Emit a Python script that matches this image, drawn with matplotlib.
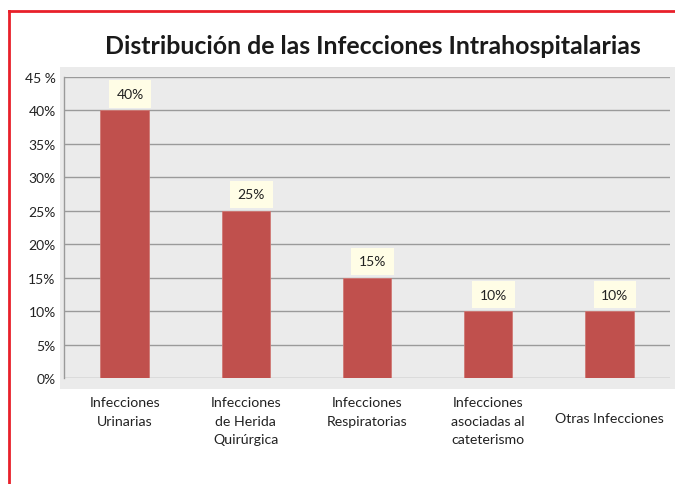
import matplotlib
matplotlib.use("Agg")
import matplotlib.pyplot as plt
import matplotlib.transforms as mtransforms
from matplotlib.patches import Rectangle
from matplotlib.lines import Line2D

plt.rcParams['font.family'] = ['Lato', 'DejaVu Sans']

categorias = ["Infecciones\nUrinarias",
              "Infecciones\nde Herida\nQuirúrgica",
              "Infecciones\nRespiratorias",
              "Infecciones\nasociadas al\ncateterismo",
              "Otras Infecciones"]
valores = [0.40, 0.25, 0.15, 0.10, 0.10]
etiquetas = ["40%", "25%", "15%", "10%", "10%"]
ticks_y = [0, 0.05, 0.10, 0.15, 0.20, 0.25, 0.30, 0.35, 0.40, 0.45]
ticks_y_txt = ["0%", "5%", "10%", "15%", "20%", "25%", "30%", "35%", "40%", "45 %"]
titulo = "Distribución de las Infecciones Intrahospitalarias"

W, H = 675, 485
fig = plt.figure(figsize=(W / 100, H / 100), dpi=100)


def fx(px):
    return px / W


def fy(py):
    return 1 - py / H


# fondo gris del area del grafico
fig.patches.append(Rectangle((fx(60), fy(390)), fx(675) - fx(60), fy(68) - fy(390),
                             transform=fig.transFigure, facecolor="#EBEBEB",
                             edgecolor="none", zorder=-1))
# borde rojo
fig.lines.append(Line2D([fx(8.5), fx(8.5)], [fy(11.5), fy(485)], transform=fig.transFigure,
                        color="#E8202A", lw=2))
fig.lines.append(Line2D([fx(8.5), fx(675)], [fy(11.5), fy(11.5)], transform=fig.transFigure,
                        color="#E8202A", lw=2))

ax = fig.add_axes([fx(64), fy(379), fx(670) - fx(64), fy(78) - fy(379)])
ax.set_facecolor("none")
ax.set_zorder(1)

x = list(range(len(valores)))
ax.bar(x, valores, width=0.4, color="#C0504D", edgecolor="#D07874", linewidth=0.6, zorder=3)
ax.set_xlim(-0.5, len(valores) - 0.5)
ax.set_ylim(0, 0.45)

ax.set_yticks(ticks_y)
ax.set_yticklabels(ticks_y_txt, fontsize=10, color="#222222")
ax.grid(axis="y", color="#9A9A9A", linewidth=1.0, zorder=1)
ax.tick_params(axis="y", length=0, pad=6)

ax.set_xticks(x)
ax.set_xticklabels(categorias, fontsize=10.2, color="#222222", linespacing=1.65, va="top")
ax.tick_params(axis="x", length=0, pad=13)
# "Otras Infecciones" centrada verticalmente como en el original
lbl = ax.get_xticklabels()[-1]
lbl.set_transform(lbl.get_transform() + mtransforms.ScaledTranslation(0, -11.5 / 72, fig.dpi_scale_trans))

for s in ["top", "right", "bottom"]:
    ax.spines[s].set_visible(False)
ax.spines["left"].set_color("#9A9A9A")
ax.spines["left"].set_linewidth(1.0)

for xi, v, t in zip(x, valores, etiquetas):
    ax.annotate(t, (xi, v), xytext=(4, 7.5), textcoords="offset points",
                ha="center", va="bottom", fontsize=10, color="#222222", zorder=4,
                bbox=dict(boxstyle="square,pad=0.55", facecolor="#FFFDE6", edgecolor="none"))

fig.text(fx(373), fy(46), titulo, ha="center", va="center", fontsize=17.9,
         fontweight="bold", color="#1A1A1A")

fig.savefig("out.png", dpi=100)
